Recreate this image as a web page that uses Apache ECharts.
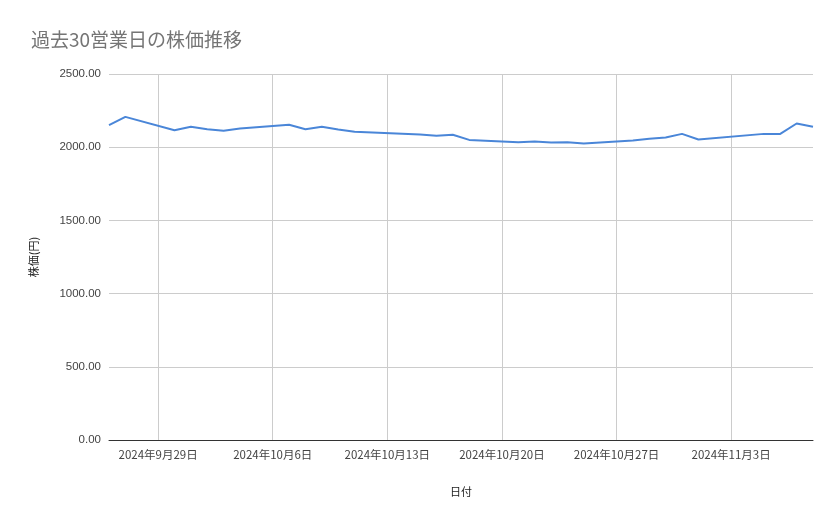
<!DOCTYPE html>
<html>
<head>
<meta charset="utf-8">
<script src="https://cdn.jsdelivr.net/npm/echarts@6/dist/echarts.min.js"></script>
<style>
	html, body { margin: 0; padding: 0; background: #fff; }
	#chart { width: 839px; height: 519px; }
</style>
</head>
<body>
<div id="chart"></div>
<script>
// business days and closing prices
var tradeDays = [
	'2024-09-26', '2024-09-27', '2024-09-30', '2024-10-01', '2024-10-02', '2024-10-03', '2024-10-04',
	'2024-10-07', '2024-10-08', '2024-10-09', '2024-10-10', '2024-10-11', '2024-10-15', '2024-10-16',
	'2024-10-17', '2024-10-18', '2024-10-21', '2024-10-22', '2024-10-23', '2024-10-24', '2024-10-25',
	'2024-10-28', '2024-10-29', '2024-10-30', '2024-10-31', '2024-11-01', '2024-11-05', '2024-11-06',
	'2024-11-07', '2024-11-08'
];
var prices = [
	2151, 2207, 2116, 2139, 2123, 2112, 2128,
	2153, 2123, 2139, 2121, 2105, 2086, 2078,
	2085, 2050, 2034, 2039, 2032, 2033, 2025,
	2046, 2057, 2066, 2091, 2053, 2091, 2091,
	2162, 2139
];
var firstDay = '2024-09-26';
var lastDay = '2024-11-08';

// calendar days so that weekends and holidays keep their width
var days = [];
var values = [];
var d = new Date(firstDay + 'T00:00:00Z');
var end = new Date(lastDay + 'T00:00:00Z');
while (d <= end) {
	var key = d.toISOString().slice(0, 10);
	days.push(key);
	var i = tradeDays.indexOf(key);
	values.push(i >= 0 ? prices[i] : null);
	d.setUTCDate(d.getUTCDate() + 1);
}

function isSunday(index) {
	return new Date(days[index] + 'T00:00:00Z').getUTCDay() === 0;
}

var myChart = echarts.init(document.getElementById('chart'));

var option = {
	title: {
		text: '過去30営業日の株価推移',
		left: 26,
		top: 25,
		textStyle: { color: '#757575', fontSize: 19, fontWeight: 'normal', fontFamily: 'Noto Sans CJK JP' }
	},
	grid: { left: 109, right: 26, top: 74, bottom: 79 },
	xAxis: {
		type: 'category',
		data: days,
		boundaryGap: false,
		name: '日付',
		nameLocation: 'middle',
		nameGap: 46,
		nameTextStyle: { color: '#222', fontSize: 11, fontFamily: 'Noto Sans CJK JP' },
		axisLine: { lineStyle: { color: '#333' } },
		axisTick: { show: false },
		axisLabel: {
			interval: function (index) { return isSunday(index); },
			color: '#444',
			fontSize: 11.5,
			margin: 9,
			fontFamily: 'Noto Sans CJK JP',
			formatter: function (v) {
				var p = v.split('-');
				return p[0] + '年' + parseInt(p[1], 10) + '月' + parseInt(p[2], 10) + '日';
			}
		},
		splitLine: {
			show: true,
			interval: function (index) { return isSunday(index); },
			lineStyle: { color: '#cccccc' }
		}
	},
	yAxis: {
		type: 'value',
		min: 0,
		max: 2500,
		interval: 500,
		name: '株価(円)',
		nameLocation: 'middle',
		nameGap: 70,
		nameTextStyle: { color: '#222', fontSize: 11, fontFamily: 'Noto Sans CJK JP' },
		axisLine: { show: false },
		axisTick: { show: false },
		axisLabel: {
			color: '#444',
			fontSize: 11.5,
			margin: 8,
			formatter: function (v) { return v.toFixed(2); }
		},
		splitLine: { lineStyle: { color: '#cccccc' } }
	},
	series: [{
		type: 'line',
		data: values,
		connectNulls: true,
		showSymbol: false,
		lineStyle: { color: '#4a86d8', width: 2 },
		itemStyle: { color: '#4a86d8' }
	}]
};

myChart.setOption(option);
</script>
</body>
</html>
